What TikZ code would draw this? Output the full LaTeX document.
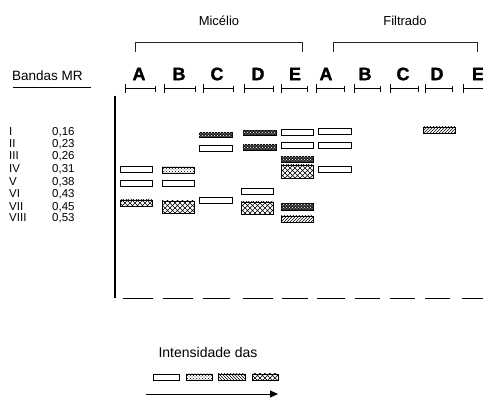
\documentclass[tikz,border=0pt]{standalone}
\usepackage{fontspec}
\setmainfont{Liberation Sans}
\newfontfamily\lanefont{Liberation Sans Bold}[FakeBold=1.6]
\usetikzlibrary{patterns,arrows.meta}

% open cross-hatching used for the strongest bands
\pgfdeclarepatternformonly{widecross}{\pgfqpoint{-1pt}{-1pt}}{\pgfqpoint{6pt}{6pt}}{\pgfqpoint{5pt}{5pt}}{
  \pgfsetlinewidth{0.6pt}
  \pgfpathmoveto{\pgfqpoint{0pt}{0pt}}\pgfpathlineto{\pgfqpoint{5pt}{5pt}}
  \pgfpathmoveto{\pgfqpoint{0pt}{5pt}}\pgfpathlineto{\pgfqpoint{5pt}{0pt}}
  \pgfusepath{stroke}}

\tikzset{
  lbl/.style={inner sep=0pt, font=\fontsize{13}{13}\selectfont},
  rowlbl/.style={inner sep=0pt, anchor=west, font=\fontsize{11.5}{11.5}\selectfont},
  lane/.style={inner sep=0pt, font=\fontsize{18}{18}\selectfont\lanefont},
  bandwhite/.style={draw, line width=0.9pt, fill=white},
  banddots/.style={draw, line width=0.9pt, pattern=crosshatch dots},
  banddense/.style={draw, line width=0.9pt, fill=black!85,
     postaction={pattern=crosshatch dots, pattern color=white}},
  bandhatch/.style={draw, line width=0.9pt, pattern=north east lines},
  bandback/.style={draw, line width=0.9pt, pattern=north west lines},
  bandcross/.style={draw, line width=0.9pt, pattern=widecross},
  bracket/.style={draw, line width=0.8pt, black!85},
}

\begin{document}
\begin{tikzpicture}[x=1pt,y=-1pt]
\useasboundingbox (0,0) rectangle (483,398);

% group titles and their brackets
\node[lbl] (mic) at (219,21) {Micélio};
\node[lbl] (fil) at (405,21) {Filtrado};
\draw[bracket] (135,52) |- (302,42) -- (302,52);
\draw[bracket] (333,52) |- (477,42) -- (477,52);

% row header
\node[inner sep=0pt, anchor=west, font=\fontsize{13.5}{13.5}\selectfont] (bmr) at (12,76) {Bandas MR};
\draw[line width=0.8pt] (13,87) -- (91,87);

% lane letters
\foreach \nm/\x/\t in {mA/139/A, mB/179/B, mC/217/C, mD/258/D, mE/295/E,
                       fA/326/A, fB/365/B, fC/403/C, fD/437/D, fE/478/E}
  \node[lane] (\nm) at (\x,74) {\t};

% lane width markers
\foreach \a/\b in {125/155, 164/195, 203/233, 244/273, 281/307,
                   316/344, 354/380, 390/418, 425/452, 463/492}{
  \draw[line width=0.9pt] (\a,88) -- (\b,88);
  \draw[line width=0.9pt] (\a,84) -- (\a,93);
  \draw[line width=0.9pt] (\b,86) -- (\b,92);
}

% Rf values of the bands
\foreach \r/\v/\y in {I/0{,}16/132, II/0{,}23/144, III/0{,}26/156, IV/0{,}31/169,
                      V/0{,}38/182, VI/0{,}43/194, VII/0{,}45/207, VIII/0{,}53/218}{
  \node[rowlbl] (r\r) at (9,\y) {\r};
  \node[rowlbl] (v\r) at (52,\y) {\v};
}

% axis and base line
\draw[line width=1.8pt] (115,96) -- (115,298);
\foreach \a/\b in {123/153, 163/193, 203/230, 243/273, 282/308,
                   317/345, 355/380, 390/415, 425/450, 462/490}
  \draw[line width=0.8pt] (\a,298) -- (\b,298);

% Micelio, lane A
\path[bandwhite] (120,166) rectangle (152,172);
\path[bandwhite] (120,180) rectangle (152,186);
\path[bandcross] (120,200) rectangle (152,206);
% lane B
\path[banddots]  (162,167) rectangle (194,173);
\path[bandwhite] (162,180) rectangle (194,186);
\path[bandcross] (162,201) rectangle (194,213);
% lane C
\path[banddense] (199,132) rectangle (232,137);
\path[bandwhite] (199,145) rectangle (232,151);
\path[bandwhite] (199,197) rectangle (232,203);
% lane D
\path[banddense] (243,130) rectangle (276,135);
\path[banddense] (243,144) rectangle (276,150);
\path[bandwhite] (241,188) rectangle (273,194);
\path[bandcross] (241,202) rectangle (273,214);
% lane E
\path[bandwhite] (281,129) rectangle (313,135);
\path[bandwhite] (281,142) rectangle (313,148);
\path[banddense] (281,156) rectangle (313,162);
\path[bandcross] (281,165) rectangle (313,178);
\path[banddense] (281,203) rectangle (313,210);
\path[bandhatch] (281,216) rectangle (313,222);
% Filtrado, lane A
\path[bandwhite] (318,128) rectangle (351,134);
\path[bandwhite] (318,142) rectangle (351,148);
\path[bandwhite] (318,166) rectangle (351,172);
% lane D
\path[bandhatch] (423,127) rectangle (455,133);

% intensity key
\node[inner sep=0pt, font=\fontsize{14}{14}\selectfont] (key) at (208,352) {Intensidade das};
\path[bandwhite] (153,374) rectangle (179,380);
\path[banddots]  (186,374) rectangle (212,380);
\path[bandback]  (218,374) rectangle (245,380);
\path[bandcross] (252,374) rectangle (278,380);
\coordinate (k0) at (146,394);
\coordinate (k1) at (278,394);
\draw[line width=0.9pt, -{Triangle[length=8pt,width=7pt]}] (k0) -- (k1);
\end{tikzpicture}
\end{document}
